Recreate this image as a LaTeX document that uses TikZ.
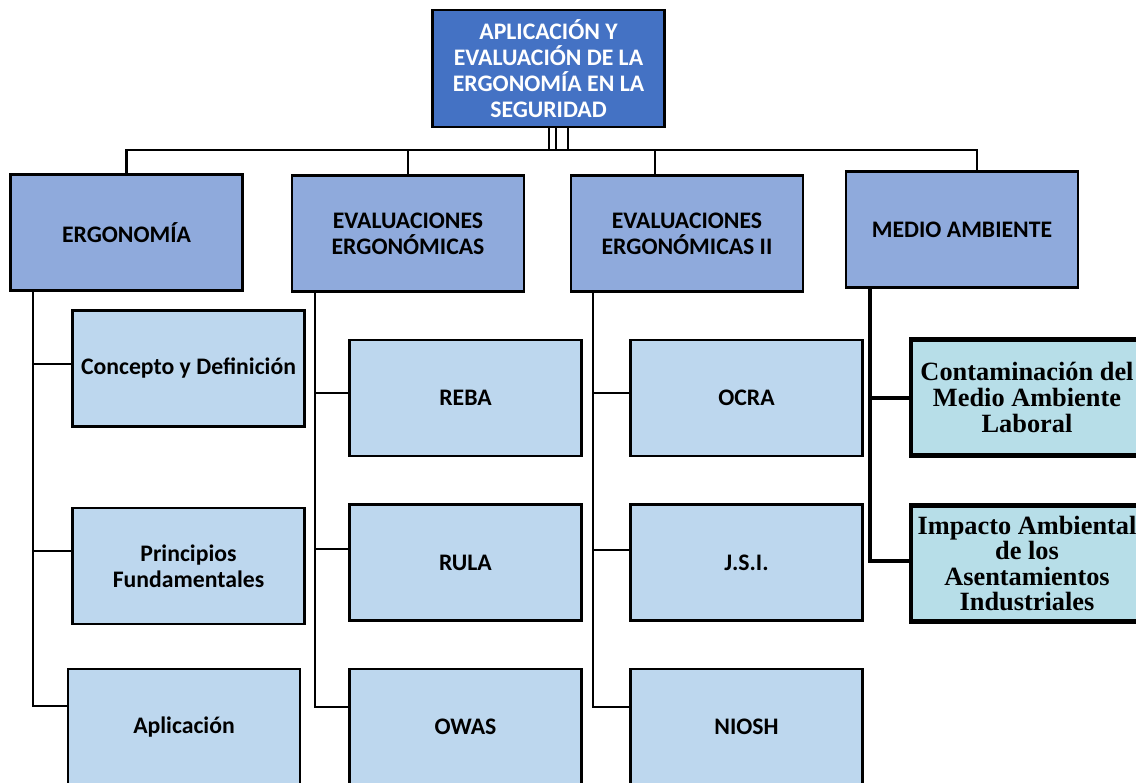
\documentclass[tikz,border=0pt]{standalone}
\usepackage{fontspec}
\setmainfont{Carlito}
\newfontfamily\serifb{Liberation Serif}
\definecolor{topc}{HTML}{4472C4}
\definecolor{lvlone}{HTML}{8FAADC}
\definecolor{lvltwo}{HTML}{BDD7EE}
\definecolor{lvlthree}{HTML}{B7DEE8}
\begin{document}
\begin{tikzpicture}[x=0.02cm,y=-0.02cm,
  box/.style={draw=black, line width=1.2pt, minimum width=4.64cm, minimum height=2.32cm, inner sep=2pt, align=center, font=\fontsize{13.5}{14.8}\selectfont\bfseries},
  topbox/.style={box, fill=topc, text=white, minimum height=2.34cm},
  lone/.style={box, fill=lvlone},
  ltwo/.style={box, fill=lvltwo},
  lthree/.style={box, fill=lvlthree, line width=2.4pt, font=\fontsize{15}{14.6}\selectfont\serifb\bfseries},
  conn/.style={line width=1.2pt},
  tconn/.style={line width=2.4pt}]
\clip (0,0) rectangle (1136,783);
\fill[white] (0,0) rectangle (1136,783);

% connectors (drawn first)
\node[topbox] (top) at (548.5,68.5) {APLICACIÓN Y\\EVALUACIÓN DE LA\\ERGONOMÍA EN LA\\SEGURIDAD};
\node[lone] (ergo) at (126.5,232.5) {ERGONOMÍA};
\node[lone] (evone) at (408,233.5) {EVALUACIONES\\ERGONÓMICAS};
\node[lone] (evtwo) at (687,233.5) {EVALUACIONES\\ERGONÓMICAS II};
\node[lone] (medio) at (962,229.5) {MEDIO AMBIENTE};

\node[ltwo] (ca) at (188.5,368.5) {Concepto y Definición};
\node[ltwo] (cb) at (188.5,566) {Principios\\Fundamentales};
\node[ltwo] (cc) at (184,727) {Aplicación};

\node[ltwo] (ra) at (465.5,398) {REBA};
\node[ltwo] (rb) at (465.5,562.5) {RULA};
\node[ltwo] (rc) at (465.5,727) {OWAS};

\node[ltwo] (oa) at (746.5,398) {OCRA};
\node[ltwo] (ob) at (746.5,562.5) {J.S.I.};
\node[ltwo] (oc) at (746.5,727) {NIOSH};

\node[lthree] (ma) at (1027,397.5) {Contaminación del\\Medio Ambiente\\Laboral};
\node[lthree] (mb) at (1027,563.5) {Impacto Ambiental\\de los\\Asentamientos\\Industriales};

% top to bus
\coordinate (bus) at (0,150);
\draw[conn] (top.south -| 549,0) -- (549,150);
\draw[conn] (top.south -| 556,0) -- (556,150);
\draw[conn] (top.south -| 568,0) -- (568,150);
\draw[conn] (ergo.north) -- (ergo.north |- bus) -- (977,150) -- (medio.north -| 977,0);
\draw[conn] (evone.north) -- (evone.north |- bus);
\draw[conn] (evtwo.north -| 655,0) -- (655,150);

% column 1
\draw[conn] (ergo.south -| 33,0) |- (cc.west |- 0,706);
\draw[conn] (33,364) -- (ca.west |- 0,364);
\draw[conn] (33,551) -- (cb.west |- 0,551);
% column 2
\draw[conn] (evone.south -| 315,0) |- (rc.west |- 0,707);
\draw[conn] (315,393) -- (ra.west |- 0,393);
\draw[conn] (315,549) -- (rb.west |- 0,549);
% column 3
\draw[conn] (evtwo.south -| 593,0) |- (oc.west |- 0,707);
\draw[conn] (593,393) -- (oa.west |- 0,393);
\draw[conn] (593,550) -- (ob.west |- 0,550);
% column 4
\draw[tconn] (medio.south -| 870,0) |- (mb.west |- 0,561);
\draw[tconn] (870,398) -- (ma.west |- 0,398);
\end{tikzpicture}
\end{document}
